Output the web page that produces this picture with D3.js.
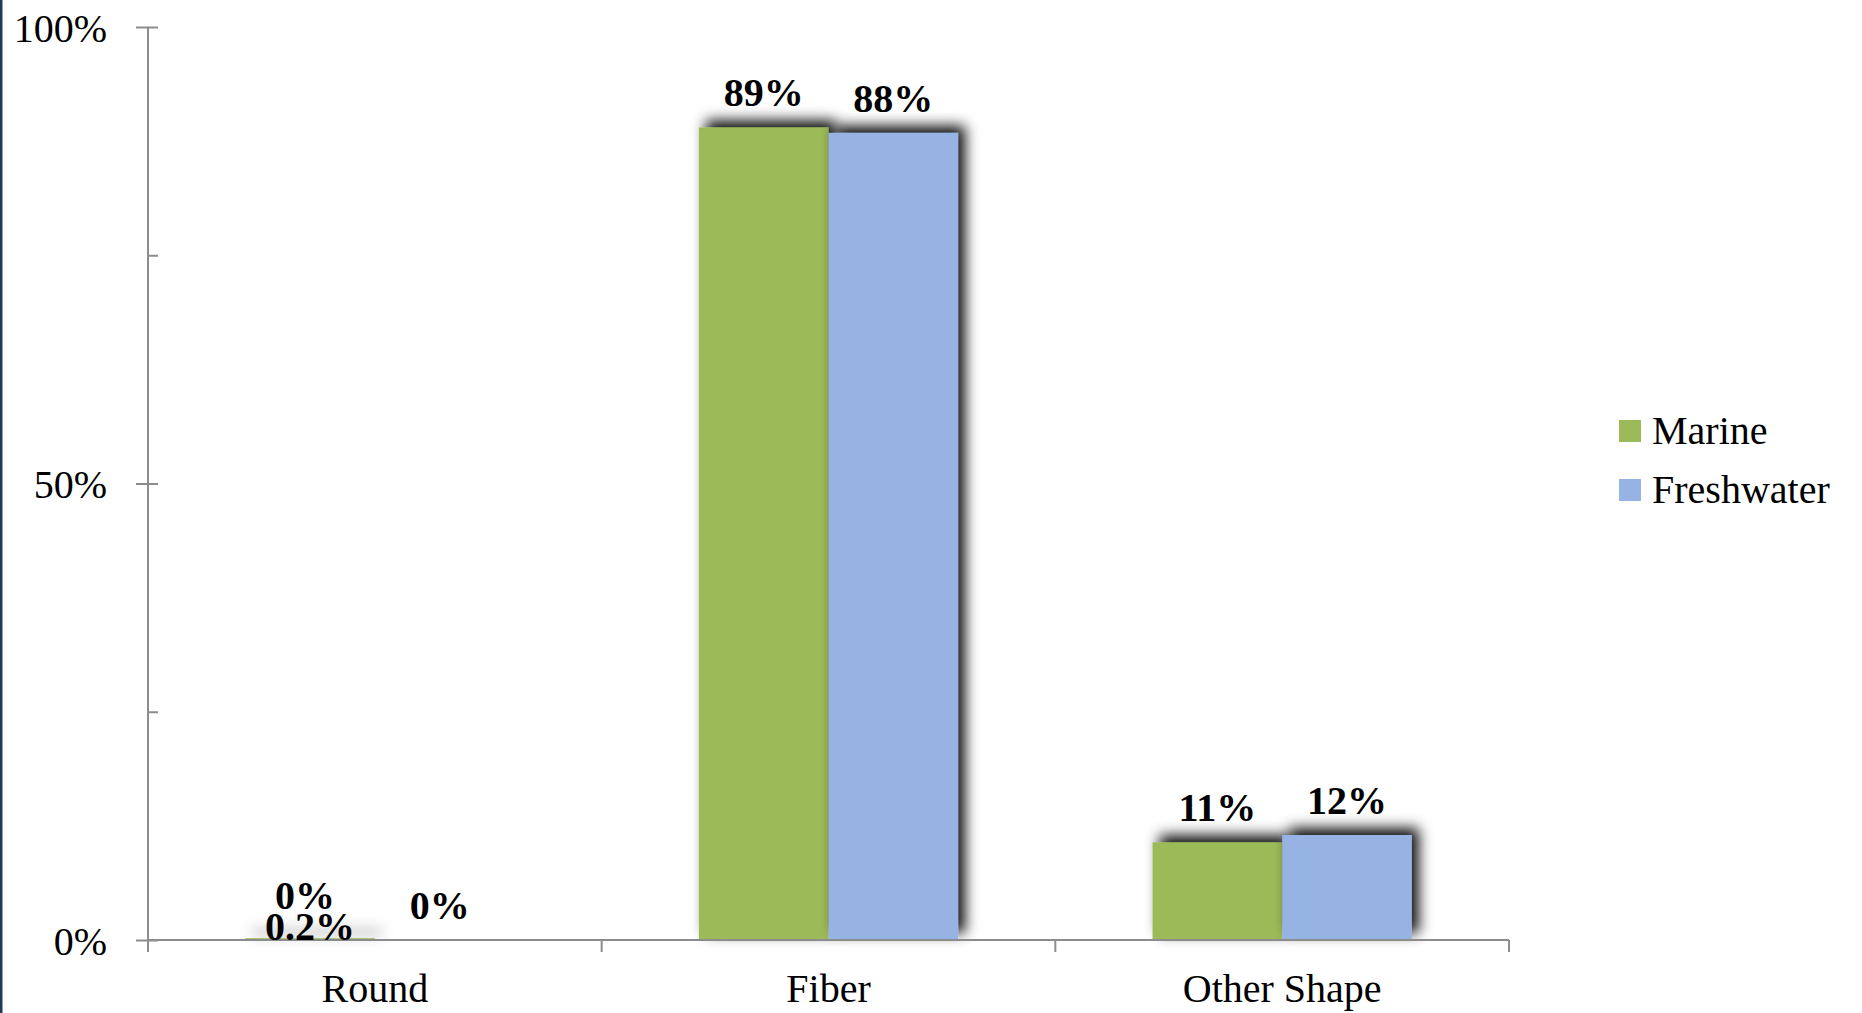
<!DOCTYPE html>
<html>
<head>
<meta charset="utf-8">
<script src="https://cdn.jsdelivr.net/npm/d3@7"></script>
<style>
  body { margin: 0; background: #fff; }
  text { font-family: "Liberation Serif", "Times New Roman", serif; }
</style>
</head>
<body>
<svg id="chart"></svg>
<script>
  // data
  var categories = ["Round", "Fiber", "Other Shape"];
  var seriesNames = ["Marine", "Freshwater"];
  var marine = [0.2, 89.0, 10.7];
  var freshwater = [0, 88.4, 11.5];
  var marineLabels = ["0%", "89%", "11%"];
  var freshwaterLabels = ["0%", "88%", "12%"];
  var extraLabel = "0.2%";
  var yTicks = [0, 50, 100];
  var yMinorTicks = [0, 25, 50, 75, 100];
  var colors = ["#9BBB59", "#97B3E3"];

  var svgWidth = 1862, svgHeight = 1013;
  var plotLeft = 148, plotRight = 1509, plotTop = 27, plotBottom = 940;

  var svg = d3.select("#chart")
    .attr("width", svgWidth)
    .attr("height", svgHeight);

  // left border line
  svg.append("rect")
    .attr("x", 0).attr("y", 0)
    .attr("width", 2.5).attr("height", svgHeight)
    .attr("fill", "#1f3a5c");

  // drop shadow for bars
  var filter = svg.append("defs").append("filter")
    .attr("id", "shadow")
    .attr("filterUnits", "userSpaceOnUse")
    .attr("x", 0).attr("y", 0)
    .attr("width", svgWidth).attr("height", svgHeight);
  filter.append("feDropShadow")
    .attr("dx", 7).attr("dy", -7)
    .attr("stdDeviation", 7)
    .attr("flood-color", "#000")
    .attr("flood-opacity", 0.95);

  var x = d3.scaleBand().domain(categories).range([plotLeft, plotRight]).padding(0);
  var xInner = d3.scaleBand().domain(seriesNames).range([0, x.bandwidth()])
    .paddingInner(0).paddingOuter(0.75);
  var y = d3.scaleLinear().domain([0, 100]).range([plotBottom, plotTop]);

  var axisColor = "#8c8c8c";

  // y axis: minor ticks inside, major ticks crossing
  var yInside = svg.append("g")
    .attr("transform", "translate(" + plotLeft + ",0)")
    .call(d3.axisRight(y).tickValues(yMinorTicks).tickSize(10).tickFormat(""));
  yInside.select(".domain").remove();

  var yAxis = svg.append("g")
    .attr("transform", "translate(" + plotLeft + ",0)")
    .call(d3.axisLeft(y).tickValues(yTicks).tickSize(12).tickSizeOuter(0)
      .tickPadding(29).tickFormat(function(d) { return d + "%"; }));
  yAxis.select(".domain").attr("d", "M0," + plotTop + "V" + (plotBottom + 12));

  [yInside, yAxis].forEach(function(g) {
    g.selectAll("line").attr("stroke", axisColor).attr("stroke-width", 2);
    g.selectAll(".domain").attr("stroke", axisColor).attr("stroke-width", 2);
  });
  yAxis.selectAll("text")
    .attr("font-size", 40)
    .attr("dy", "0.36em")
    .attr("fill", "#000");

  // bars
  var groups = [marine, freshwater];
  groups.forEach(function(values, si) {
    svg.append("g")
      .attr("filter", "url(#shadow)")
      .selectAll("rect")
      .data(values)
      .enter()
      .append("rect")
      .attr("x", function(d, i) { return x(categories[i]) + xInner(seriesNames[si]); })
      .attr("y", function(d) { return y(d); })
      .attr("width", xInner.bandwidth())
      .attr("height", function(d) { return y(0) - y(d); })
      .attr("fill", colors[si]);
  });

  // x axis
  var xAxis = svg.append("g")
    .attr("transform", "translate(0," + plotBottom + ")")
    .call(d3.axisBottom(x).tickSize(0).tickSizeOuter(0).tickPadding(34));
  xAxis.select(".domain").attr("d", "M" + plotLeft + ",0H" + plotRight)
    .attr("stroke", axisColor).attr("stroke-width", 2);
  xAxis.selectAll("text").attr("font-size", 40).attr("fill", "#000");

  var bounds = categories.map(function(c) { return x(c); }).concat([plotRight]);
  xAxis.selectAll(".bound")
    .data(bounds)
    .enter()
    .append("line")
    .attr("class", "bound")
    .attr("x1", function(d) { return d; })
    .attr("x2", function(d) { return d; })
    .attr("y1", 0).attr("y2", 12)
    .attr("stroke", axisColor).attr("stroke-width", 2);

  // data labels
  var labelSets = [marineLabels, freshwaterLabels];
  labelSets.forEach(function(labels, si) {
    svg.append("g")
      .selectAll("text")
      .data(labels)
      .enter()
      .append("text")
      .attr("x", function(d, i) {
        return x(categories[i]) + xInner(seriesNames[si]) + xInner.bandwidth() / 2 - (si === 0 && i === 0 ? 5 : 0);
      })
      .attr("y", function(d, i) {
        var v = groups[si][i];
        return y(v) - 21 - (si === 0 && i === 0 ? 8 : 0);
      })
      .attr("text-anchor", "middle")
      .attr("font-size", 40)
      .attr("font-weight", "bold")
      .text(function(d) { return d; });
  });

  // overlapping 0.2% annotation on the Round marine bar
  svg.append("text")
    .attr("x", x(categories[0]) + xInner(seriesNames[0]) + xInner.bandwidth() / 2)
    .attr("y", y(0))
    .attr("text-anchor", "middle")
    .attr("font-size", 40)
    .attr("font-weight", "bold")
    .text(extraLabel);

  // legend
  var legend = svg.append("g")
    .attr("transform", "translate(1619,420)");
  var item = legend.selectAll("g")
    .data(seriesNames)
    .enter()
    .append("g")
    .attr("transform", function(d, i) { return "translate(0," + (i * 59) + ")"; });
  item.append("rect")
    .attr("width", 22).attr("height", 22)
    .attr("fill", function(d, i) { return colors[i]; });
  item.append("text")
    .attr("x", 33).attr("y", 24)
    .attr("font-size", 40)
    .text(function(d) { return d; });
</script>
</body>
</html>
